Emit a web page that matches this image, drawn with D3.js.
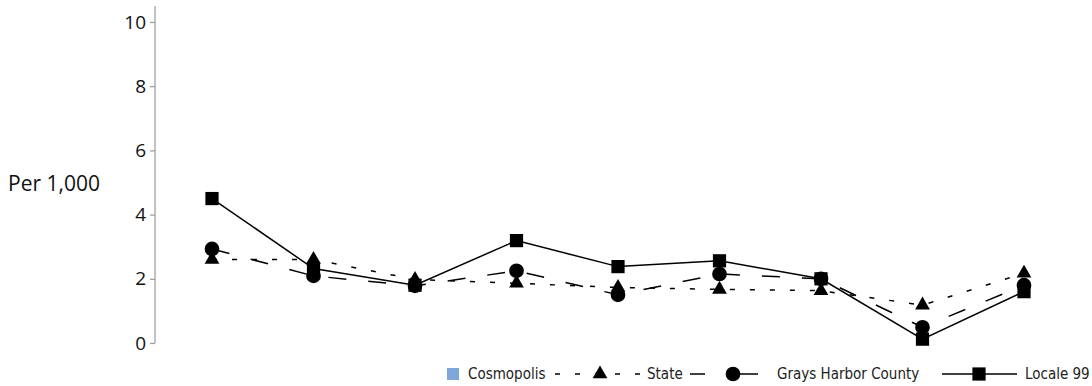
<!DOCTYPE html>
<html>
<head>
<meta charset="utf-8">
<script src="https://cdn.jsdelivr.net/npm/d3@7"></script>
<style>
  body { margin: 0; background: #fff; }
  svg { display: block; }
</style>
</head>
<body>
<script>
// periods along the x axis (not labelled in the chart)
const periods = ["1", "2", "3", "4", "5", "6", "7", "8", "9"];

// rates per 1,000
const cosmopolis = [null, null, null, null, null, null, null, null, null];
const stateVals = [2.6, 2.6, 1.98, 1.86, 1.73, 1.67, 1.63, 1.18, 2.17];
const countyVals = [2.93, 2.09, 1.78, 2.25, 1.5, 2.15, 2.0, 0.49, 1.8];
const localeVals = [4.5, 2.32, 1.8, 3.19, 2.38, 2.56, 2.0, 0.12, 1.6];

const yTicks = [0, 2, 4, 6, 8, 10];

const width = 1092, height = 386;

const svg = d3.select("body").append("svg")
    .attr("width", width)
    .attr("height", height);

const y = d3.scaleLinear().domain([0, 10]).range([343, 22]);
const x = d3.scalePoint().domain(periods).range([212, 1024]);

// Y axis
const yAxis = svg.append("g")
    .attr("transform", "translate(155,0)")
    .call(d3.axisLeft(y).tickValues(yTicks).tickSize(5).tickSizeOuter(0).tickPadding(4));
yAxis.select(".domain").remove();
yAxis.append("line")
    .attr("y1", y(0))
    .attr("y2", y(10.5))
    .attr("stroke", "#999")
    .attr("stroke-width", 1.2);
yAxis.selectAll(".tick line").attr("stroke", "#999").attr("stroke-width", 1.2);
yAxis.selectAll(".tick text")
    .attr("fill", "#111")
    .style("font-family", "'Open Sans', sans-serif")
    .style("font-size", "19px");

// Y label
svg.append("text")
    .attr("x", 8)
    .attr("y", y(5) + 3)
    .attr("dominant-baseline", "middle")
    .attr("fill", "#111")
    .style("font-family", "'Open Sans', sans-serif")
    .style("font-size", "21px")
    .text("Per 1,000");

const series = [
    { name: "State", values: stateVals, dash: "5,15", legendDash: "5,15", marker: "triangle" },
    { name: "Grays Harbor County", values: countyVals, dash: "18,22", legendDash: "15,25,30", marker: "circle" },
    { name: "Locale 99", values: localeVals, dash: null, legendDash: null, marker: "square" }
];

const symbolFor = {
    triangle: d3.symbol().type(d3.symbolTriangle).size(95),
    circle: d3.symbol().type(d3.symbolCircle).size(170),
    square: d3.symbol().type(d3.symbolSquare).size(175)
};

const line = d3.line()
    .defined(d => d != null)
    .x((d, i) => x(periods[i]))
    .y(d => y(d));

series.forEach(s => {
    svg.append("path")
        .datum(s.values)
        .attr("fill", "none")
        .attr("stroke", "#000")
        .attr("stroke-width", 1.5)
        .attr("stroke-dasharray", s.dash)
        .attr("d", line);
});

series.forEach(s => {
    svg.append("g").selectAll("path")
        .data(s.values.filter(d => d != null))
        .join("path")
        .attr("d", symbolFor[s.marker])
        .attr("transform", (d, i) => `translate(${x(periods[i])},${y(d)})`)
        .attr("fill", "#000");
});

// Legend
const legend = svg.append("g")
    .style("font-family", "'DejaVu Sans Condensed', 'DejaVu Sans', sans-serif")
    .style("font-size", "15px")
    .attr("fill", "#222");
const ly = 374;

legend.append("rect")
    .attr("x", 447).attr("y", ly - 6)
    .attr("width", 12).attr("height", 12)
    .attr("fill", "#7ea6d8");
legend.append("text").attr("x", 468).attr("y", ly).attr("dominant-baseline", "central").text("Cosmopolis");

const legendItems = [
    { s: series[0], x1: 555, x2: 641, cx: 600, tx: 647 },
    { s: series[1], x1: 690, x2: 758, cx: 733, tx: 777 },
    { s: series[2], x1: 942, x2: 1017, cx: 979, tx: 1025 }
];
legendItems.forEach(it => {
    legend.append("line")
        .attr("x1", it.x1).attr("x2", it.x2)
        .attr("y1", ly).attr("y2", ly)
        .attr("stroke", "#000")
        .attr("stroke-width", 1.5)
        .attr("stroke-dasharray", it.s.legendDash);
    legend.append("path")
        .attr("d", symbolFor[it.s.marker])
        .attr("transform", `translate(${it.cx},${ly})`)
        .attr("fill", "#000");
    legend.append("text")
        .attr("x", it.tx).attr("y", ly)
        .attr("dominant-baseline", "central")
        .text(it.s.name);
});
</script>
</body>
</html>
